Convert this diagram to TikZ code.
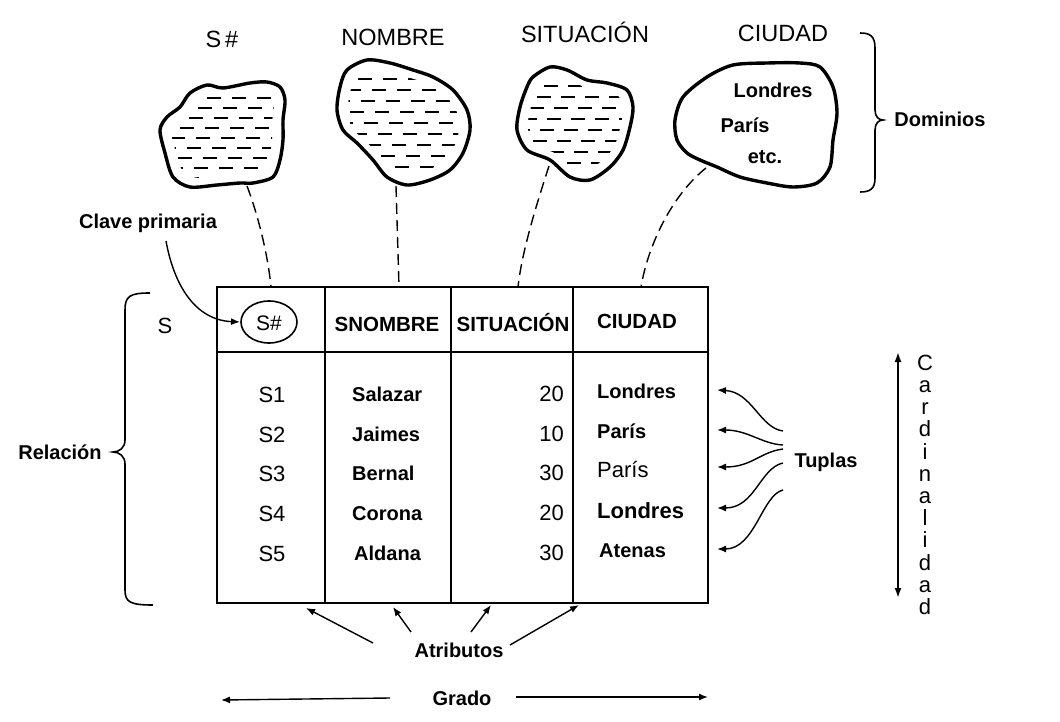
\documentclass[tikz,border=0pt]{standalone}
\usepackage{fontspec}
\setmainfont{Liberation Sans}
\usetikzlibrary{shapes.geometric,arrows.meta}
\tikzset{
  lbl/.style={inner sep=0pt,font=\fontsize{20}{24}\selectfont\bfseries},
  reg/.style={inner sep=0pt,font=\fontsize{22}{26}\selectfont},
  top/.style={inner sep=0pt,font=\fontsize{23.5}{28}\selectfont},
  hdr/.style={inner sep=0pt,font=\fontsize{20.5}{24}\selectfont\bfseries},
  tbl/.style={line width=2pt},
  cloudline/.style={line width=3.4pt,line join=round},
  hatch/.style={line width=2.2pt},
  dashconn/.style={line width=1.4pt,dash pattern=on 11pt off 6pt},
  arr/.style={line width=1.4pt,-{Latex[length=9pt,width=7pt]}},
  darr/.style={line width=1.8pt,{Latex[length=10pt,width=7pt]}-{Latex[length=10pt,width=7pt]}},
  brace/.style={line width=1.6pt}
}
\begin{document}
\begin{tikzpicture}[x=1pt,y=-1pt]
\useasboundingbox (0,0) rectangle (1060,722);
\fill[white] (0,0) rectangle (1060,722);

% ---------- top labels
\node[top,anchor=base] (lS) at (222,48) {S\,\#};
\node[top,anchor=base] (lN) at (393,46) {NOMBRE};
\node[top,anchor=base] (lSi) at (585,43) {SITUACIÓN};
\node[top,anchor=base] (lC) at (783,42) {CIUDAD};

% ---------- cloud S#
\begin{scope}
\clip[shift={(222,135)},scale=0.82,shift={(-222,-135)}] plot[smooth cycle] coordinates {(190,93) (207,85) (223,88) (250,83) (267,82) (280,87) (285,100) (283,120) (283,140) (280,160) (273,177) (253,183) (240,183) (217,185) (190,187) (173,177) (165,153) (160,130) (167,117) (180,107)};
\foreach \r [count=\i, evaluate=\i as \ph using {mod(\i*9,25)}] in {88,98,...,188}
  \draw[hatch,dash pattern=on 14pt off 11pt,dash phase=\ph pt] (150,\r) -- (300,\r);
\end{scope}
\draw[cloudline] plot[smooth cycle] coordinates {(190,93) (207,85) (223,88) (250,83) (267,82) (280,87) (285,100) (283,120) (283,140) (280,160) (273,177) (253,183) (240,183) (217,185) (190,187) (173,177) (165,153) (160,130) (167,117) (180,107)};

% ---------- cloud NOMBRE
\begin{scope}
\clip[shift={(403,122)},scale=0.84,shift={(-403,-122)}] plot[smooth cycle] coordinates {(347,70) (367,60) (390,63) (413,70) (433,77) (453,90) (467,110) (470,130) (463,153) (450,170) (430,180) (407,185) (387,177) (373,160) (357,143) (343,130) (337,110) (340,87)};
\foreach \r [count=\i, evaluate=\i as \ph using {mod(\i*11,25)}] in {68,79,...,190}
  \draw[hatch,dash pattern=on 14pt off 11pt,dash phase=\ph pt] (330,\r) -- (480,\r);
\end{scope}
\draw[cloudline] plot[smooth cycle] coordinates {(347,70) (367,60) (390,63) (413,70) (433,77) (453,90) (467,110) (470,130) (463,153) (450,170) (430,180) (407,185) (387,177) (373,160) (357,143) (343,130) (337,110) (340,87)};

% ---------- cloud SITUACION
\begin{scope}
\clip[shift={(577,122)},scale=0.82,shift={(-577,-122)}] plot[smooth cycle] coordinates {(533,77) (550,67) (567,70) (587,80) (607,83) (627,90) (633,107) (630,127) (623,150) (610,167) (590,180) (570,177) (550,160) (527,150) (517,130) (520,107) (527,87)};
\foreach \r [count=\i, evaluate=\i as \ph using {mod(\i*7,24)}] in {75,86,...,185}
  \draw[hatch,dash pattern=on 14pt off 10pt,dash phase=\ph pt] (510,\r) -- (640,\r);
\end{scope}
\draw[cloudline] plot[smooth cycle] coordinates {(533,77) (550,67) (567,70) (587,80) (607,83) (627,90) (633,107) (630,127) (623,150) (610,167) (590,180) (570,177) (550,160) (527,150) (517,130) (520,107) (527,87)};

% ---------- cloud CIUDAD
\draw[cloudline] plot[smooth cycle] coordinates {(707,77) (733,65) (767,63) (800,63) (820,67) (833,87) (837,113) (833,140) (830,167) (817,183) (793,187) (767,183) (740,177) (717,167) (700,160) (687,153) (677,140) (675,120) (683,97)};
\node[lbl,anchor=base] (cL) at (773,98) {Londres};
\node[lbl,anchor=base] (cP) at (745,133) {París};
\node[lbl,anchor=base] (cE) at (765,164) {etc.};

% ---------- Dominios brace
\draw[brace] (860,33) .. controls (870,33) and (875,36) .. (875,48) -- (875,110)
  .. controls (875,117) and (879,120) .. (883,120)
  .. controls (879,120) and (875,123) .. (875,130) -- (875,178)
  .. controls (875,189) and (870,192) .. (860,192);
\node[lbl,anchor=base] (dom) at (940,127) {Dominios};

% ---------- table
\draw[tbl] (217,287) rectangle (708,603);
\draw[tbl] (217,352) -- (708,352);
\draw[tbl] (325,287) -- (325,603);
\draw[tbl] (451,287) -- (451,603);
\draw[tbl] (573,287) -- (573,603);

\coordinate (pkc) at (269,322);
\node[inner sep=0pt,font=\fontsize{21}{24}\selectfont,anchor=base] (pk) at (269,330) {S\#};
\draw[line width=1.6pt] (pkc) ellipse [x radius=28, y radius=21];
\coordinate (pkw) at (240,322);
\node[hdr,anchor=base] (hN) at (387,331) {SNOMBRE};
\node[hdr,anchor=base] (hSi) at (513,331) {SITUACIÓN};
\node[hdr,anchor=base] (hC) at (637,328) {CIUDAD};
\node[reg,anchor=base] (lblS) at (165,333) {S};

% rows
\node[reg,anchor=base] (s1) at (272,402) {S1};
\node[reg,anchor=base] (s2) at (272,442) {S2};
\node[reg,anchor=base] (s3) at (272,481) {S3};
\node[reg,anchor=base] (s4) at (272,521) {S4};
\node[reg,anchor=base] (s5) at (272,561) {S5};

\node[lbl,anchor=base west] (n1) at (352,401) {Salazar};
\node[lbl,anchor=base west] (n2) at (352,441) {Jaimes};
\node[lbl,anchor=base west] (n3) at (352,480) {Bernal};
\node[lbl,anchor=base west] (n4) at (352,520) {Corona};
\node[lbl,anchor=base west] (n5) at (354,560) {Aldana};

\node[reg,anchor=base east] (v1) at (564,401) {20};
\node[reg,anchor=base east] (v2) at (564,441) {10};
\node[reg,anchor=base east] (v3) at (564,480) {30};
\node[reg,anchor=base east] (v4) at (564,520) {20};
\node[reg,anchor=base east] (v5) at (564,560) {30};

\node[lbl,anchor=base west] (c1) at (597,398) {Londres};
\node[lbl,anchor=base west] (c2) at (597,438) {París};
\node[reg,anchor=base west] (c3) at (597,477) {París};
\node[lbl,anchor=base west,font=\fontsize{22}{26}\selectfont\bfseries] (c4) at (597,518) {Londres};
\node[lbl,anchor=base west] (c5) at (599,557) {Atenas};

% ---------- dashed connectors cloud -> table
\coordinate (bA) at (247,186); \coordinate (tA) at (271,287);
\coordinate (bB) at (396,186); \coordinate (tB) at (399,287);
\coordinate (bC) at (549,166); \coordinate (tC) at (518,287);
\coordinate (bD) at (706,168); \coordinate (tD) at (641,287);
\draw[dashconn] (bA) .. controls (258,215) and (268,255) .. (tA);
\draw[dashconn] (bB) -- (tB);
\draw[dashconn] (bC) .. controls (538,200) and (522,250) .. (tC);
\draw[dashconn] (bD) .. controls (672,195) and (648,245) .. (tD);

% ---------- Clave primaria
\node[lbl,anchor=base] (cp) at (148,229) {Clave primaria};
\coordinate (cpS) at (166,241);
\draw[arr] (cpS) .. controls (174,285) and (195,320) .. (pkw);

% ---------- Relacion brace
\draw[brace] (150,293) .. controls (130,293) and (125,296) .. (125,310) -- (125,440)
  .. controls (125,448) and (119,452) .. (113,452)
  .. controls (119,452) and (125,456) .. (125,464) -- (125,590)
  .. controls (125,602) and (130,605) .. (153,605);
\node[lbl,anchor=base] (rel) at (60,459) {Relación};

% ---------- Tuplas
\node[lbl,anchor=base] (tup) at (826,467) {Tuplas};
\coordinate (ts1) at (783,431); \coordinate (te1) at (717,390);
\coordinate (ts2) at (783,445); \coordinate (te2) at (717,430);
\coordinate (ts3) at (783,449); \coordinate (te3) at (717,467);
\coordinate (ts4) at (783,463); \coordinate (te4) at (717,508);
\coordinate (ts5) at (783,490); \coordinate (te5) at (717,549);
\draw[arr] (ts1) .. controls (760,428) and (752,392) .. (te1);
\draw[arr] (ts2) .. controls (762,444) and (748,430) .. (te2);
\draw[arr] (ts3) .. controls (760,452) and (752,467) .. (te3);
\draw[arr] (ts4) .. controls (760,468) and (755,508) .. (te4);
\draw[arr] (ts5) .. controls (762,495) and (755,549) .. (te5);

% ---------- Cardinalidad
\coordinate (kt) at (898,352); \coordinate (kb) at (898,598);
\draw[darr] (kt) -- (kb);
\foreach \ch [count=\i] in {C,a,r,d,i,n,a,l,i,d,a,d}
  \node[reg,anchor=base] (k\i) at (925,{348+\i*22.2}) {\ch};

% ---------- Atributos
\node[lbl,anchor=base] (atr) at (459,657) {Atributos};
\coordinate (as1) at (373,643); \coordinate (ae1) at (306,608);
\coordinate (as2) at (411,632); \coordinate (ae2) at (393,607);
\coordinate (as3) at (471,632); \coordinate (ae3) at (491,605);
\coordinate (as4) at (510,645); \coordinate (ae4) at (579,605);
\draw[arr] (as1) -- (ae1);
\draw[arr] (as2) -- (ae2);
\draw[arr] (as3) -- (ae3);
\draw[arr] (as4) -- (ae4);

% ---------- Grado
\node[lbl,anchor=base] (gr) at (462,705) {Grado};
\coordinate (gl) at (221,700); \coordinate (gls) at (390,698);
\coordinate (grs) at (516,697); \coordinate (gre) at (708,697);
\draw[arr] (gls) -- (gl);
\draw[arr] (grs) -- (gre);
\end{tikzpicture}
\end{document}
